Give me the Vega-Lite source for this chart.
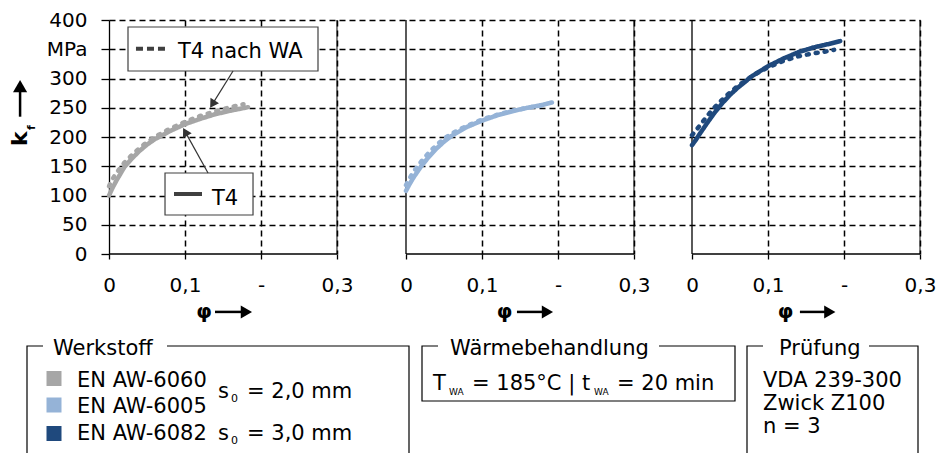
{
"$schema": "https://vega.github.io/schema/vega-lite/v6.json",
"width": 811, "height": 234,
"autosize": {"type": "none"},
"padding": {"left": 109, "top": 20, "right": 22, "bottom": 199},
"config": {"view": {"stroke": null}, "font": "DejaVu Sans", "axis": {"labelFont": "DejaVu Sans", "labelFontSize": 20, "labelColor": "black"}},
"datasets": {"curves": [
{"Werkstoff":"EN AW-6060","Zustand":"T4","phi":0,"kf":100},{"Werkstoff":"EN AW-6060","Zustand":"T4","phi":0.005,"kf":114},{"Werkstoff":"EN AW-6060","Zustand":"T4","phi":0.01,"kf":126},{"Werkstoff":"EN AW-6060","Zustand":"T4","phi":0.02,"kf":148},{"Werkstoff":"EN AW-6060","Zustand":"T4","phi":0.03,"kf":163},{"Werkstoff":"EN AW-6060","Zustand":"T4","phi":0.04,"kf":176},{"Werkstoff":"EN AW-6060","Zustand":"T4","phi":0.05,"kf":187},{"Werkstoff":"EN AW-6060","Zustand":"T4","phi":0.06,"kf":196},{"Werkstoff":"EN AW-6060","Zustand":"T4","phi":0.08,"kf":210},{"Werkstoff":"EN AW-6060","Zustand":"T4","phi":0.1,"kf":222},{"Werkstoff":"EN AW-6060","Zustand":"T4","phi":0.12,"kf":231},{"Werkstoff":"EN AW-6060","Zustand":"T4","phi":0.14,"kf":239},{"Werkstoff":"EN AW-6060","Zustand":"T4","phi":0.16,"kf":245},{"Werkstoff":"EN AW-6060","Zustand":"T4","phi":0.183,"kf":251},
{"Werkstoff":"EN AW-6005","Zustand":"T4","phi":0,"kf":108},{"Werkstoff":"EN AW-6005","Zustand":"T4","phi":0.005,"kf":120},{"Werkstoff":"EN AW-6005","Zustand":"T4","phi":0.01,"kf":131},{"Werkstoff":"EN AW-6005","Zustand":"T4","phi":0.02,"kf":150},{"Werkstoff":"EN AW-6005","Zustand":"T4","phi":0.03,"kf":166},{"Werkstoff":"EN AW-6005","Zustand":"T4","phi":0.04,"kf":180},{"Werkstoff":"EN AW-6005","Zustand":"T4","phi":0.05,"kf":192},{"Werkstoff":"EN AW-6005","Zustand":"T4","phi":0.06,"kf":202},{"Werkstoff":"EN AW-6005","Zustand":"T4","phi":0.08,"kf":217},{"Werkstoff":"EN AW-6005","Zustand":"T4","phi":0.1,"kf":228},{"Werkstoff":"EN AW-6005","Zustand":"T4","phi":0.12,"kf":237},{"Werkstoff":"EN AW-6005","Zustand":"T4","phi":0.14,"kf":244},{"Werkstoff":"EN AW-6005","Zustand":"T4","phi":0.16,"kf":250},{"Werkstoff":"EN AW-6005","Zustand":"T4","phi":0.18,"kf":255},{"Werkstoff":"EN AW-6005","Zustand":"T4","phi":0.192,"kf":259},
{"Werkstoff":"EN AW-6082","Zustand":"T4","phi":0,"kf":186},{"Werkstoff":"EN AW-6082","Zustand":"T4","phi":0.005,"kf":195},{"Werkstoff":"EN AW-6082","Zustand":"T4","phi":0.01,"kf":205},{"Werkstoff":"EN AW-6082","Zustand":"T4","phi":0.02,"kf":224},{"Werkstoff":"EN AW-6082","Zustand":"T4","phi":0.03,"kf":242},{"Werkstoff":"EN AW-6082","Zustand":"T4","phi":0.04,"kf":258},{"Werkstoff":"EN AW-6082","Zustand":"T4","phi":0.05,"kf":272},{"Werkstoff":"EN AW-6082","Zustand":"T4","phi":0.06,"kf":284},{"Werkstoff":"EN AW-6082","Zustand":"T4","phi":0.08,"kf":305},{"Werkstoff":"EN AW-6082","Zustand":"T4","phi":0.1,"kf":321},{"Werkstoff":"EN AW-6082","Zustand":"T4","phi":0.12,"kf":334},{"Werkstoff":"EN AW-6082","Zustand":"T4","phi":0.14,"kf":345},{"Werkstoff":"EN AW-6082","Zustand":"T4","phi":0.16,"kf":353},{"Werkstoff":"EN AW-6082","Zustand":"T4","phi":0.18,"kf":359},{"Werkstoff":"EN AW-6082","Zustand":"T4","phi":0.195,"kf":364},
{"Werkstoff":"EN AW-6060","Zustand":"T4 nach WA","phi":0,"kf":116},{"Werkstoff":"EN AW-6060","Zustand":"T4 nach WA","phi":0.005,"kf":129},{"Werkstoff":"EN AW-6060","Zustand":"T4 nach WA","phi":0.01,"kf":139},{"Werkstoff":"EN AW-6060","Zustand":"T4 nach WA","phi":0.02,"kf":156},{"Werkstoff":"EN AW-6060","Zustand":"T4 nach WA","phi":0.03,"kf":169},{"Werkstoff":"EN AW-6060","Zustand":"T4 nach WA","phi":0.04,"kf":181},{"Werkstoff":"EN AW-6060","Zustand":"T4 nach WA","phi":0.05,"kf":191},{"Werkstoff":"EN AW-6060","Zustand":"T4 nach WA","phi":0.06,"kf":200},{"Werkstoff":"EN AW-6060","Zustand":"T4 nach WA","phi":0.08,"kf":214},{"Werkstoff":"EN AW-6060","Zustand":"T4 nach WA","phi":0.1,"kf":226},{"Werkstoff":"EN AW-6060","Zustand":"T4 nach WA","phi":0.12,"kf":236},{"Werkstoff":"EN AW-6060","Zustand":"T4 nach WA","phi":0.14,"kf":244},{"Werkstoff":"EN AW-6060","Zustand":"T4 nach WA","phi":0.16,"kf":251},{"Werkstoff":"EN AW-6060","Zustand":"T4 nach WA","phi":0.177,"kf":256},
{"Werkstoff":"EN AW-6005","Zustand":"T4 nach WA","phi":0,"kf":118},{"Werkstoff":"EN AW-6005","Zustand":"T4 nach WA","phi":0.005,"kf":130},{"Werkstoff":"EN AW-6005","Zustand":"T4 nach WA","phi":0.01,"kf":141},{"Werkstoff":"EN AW-6005","Zustand":"T4 nach WA","phi":0.02,"kf":158},{"Werkstoff":"EN AW-6005","Zustand":"T4 nach WA","phi":0.03,"kf":173},{"Werkstoff":"EN AW-6005","Zustand":"T4 nach WA","phi":0.04,"kf":186},{"Werkstoff":"EN AW-6005","Zustand":"T4 nach WA","phi":0.05,"kf":197},{"Werkstoff":"EN AW-6005","Zustand":"T4 nach WA","phi":0.06,"kf":206},{"Werkstoff":"EN AW-6005","Zustand":"T4 nach WA","phi":0.08,"kf":219},{"Werkstoff":"EN AW-6005","Zustand":"T4 nach WA","phi":0.1,"kf":230},{"Werkstoff":"EN AW-6005","Zustand":"T4 nach WA","phi":0.12,"kf":238},{"Werkstoff":"EN AW-6005","Zustand":"T4 nach WA","phi":0.14,"kf":245},{"Werkstoff":"EN AW-6005","Zustand":"T4 nach WA","phi":0.16,"kf":250},{"Werkstoff":"EN AW-6005","Zustand":"T4 nach WA","phi":0.18,"kf":254},{"Werkstoff":"EN AW-6005","Zustand":"T4 nach WA","phi":0.187,"kf":256},
{"Werkstoff":"EN AW-6082","Zustand":"T4 nach WA","phi":0,"kf":203},{"Werkstoff":"EN AW-6082","Zustand":"T4 nach WA","phi":0.005,"kf":211},{"Werkstoff":"EN AW-6082","Zustand":"T4 nach WA","phi":0.01,"kf":219},{"Werkstoff":"EN AW-6082","Zustand":"T4 nach WA","phi":0.02,"kf":236},{"Werkstoff":"EN AW-6082","Zustand":"T4 nach WA","phi":0.03,"kf":251},{"Werkstoff":"EN AW-6082","Zustand":"T4 nach WA","phi":0.04,"kf":264},{"Werkstoff":"EN AW-6082","Zustand":"T4 nach WA","phi":0.05,"kf":276},{"Werkstoff":"EN AW-6082","Zustand":"T4 nach WA","phi":0.06,"kf":287},{"Werkstoff":"EN AW-6082","Zustand":"T4 nach WA","phi":0.08,"kf":305},{"Werkstoff":"EN AW-6082","Zustand":"T4 nach WA","phi":0.1,"kf":319},{"Werkstoff":"EN AW-6082","Zustand":"T4 nach WA","phi":0.12,"kf":330},{"Werkstoff":"EN AW-6082","Zustand":"T4 nach WA","phi":0.14,"kf":338},{"Werkstoff":"EN AW-6082","Zustand":"T4 nach WA","phi":0.16,"kf":343},{"Werkstoff":"EN AW-6082","Zustand":"T4 nach WA","phi":0.18,"kf":347},{"Werkstoff":"EN AW-6082","Zustand":"T4 nach WA","phi":0.187,"kf":349}
]},
"resolve": {"scale": {"x": "independent", "y": "independent"}},
"layer": [
{"layer": [
 {"data":{"name":"curves"},"transform":[{"filter":{"field":"Werkstoff","equal":"EN AW-6060"}}],"mark":{"type":"line","strokeWidth":4.5,"strokeCap":"round","strokeJoin":"round"},
  "encoding":{
   "x":{"field":"phi","type":"quantitative","scale":{"domain":[0,1.06711],"nice":false,"zero":false},"axis":{"orient":"bottom","values":[0,0.1,0.2,0.3],"domain":false,"tickSize":5,"tickColor":"black","tickWidth":1.3,"labelExpr":"datum.value < 0.05 ? '0' : datum.value < 0.15 ? '0,1' : datum.value < 0.25 ? '-' : '0,3'","labelPadding":16,"labelFlush":false,"labelOverlap":false,"grid":true,"gridColor":"black","gridWidth":1.5,"gridDash":[6,4],"gridOpacity":{"condition":{"test":"datum.value < 0.05","value":0},"value":1},"title":null}},
   "y":{"field":"kf","type":"quantitative","scale":{"domain":[0,400],"nice":false,"zero":false},"axis":{"orient":"left","values":[0,50,100,150,200,250,300,350,400],"tickCount":9,"domain":true,"domainColor":"black","domainWidth":1.3,"tickSize":8,"tickColor":"black","tickWidth":1.3,"labelPadding":14,"labelExpr":"datum.value == 350 ? 'MPa' : datum.label","grid":true,"gridColor":"black","gridWidth":1.5,"gridDash":[6,4],"gridOpacity":{"condition":{"test":"datum.value == 0","value":0},"value":1},"title":null}},
   "color":{"field":"Werkstoff","type":"nominal","scale":{"domain":["EN AW-6060","EN AW-6005","EN AW-6082"],"range":["#a6a6a6","#95b3d7","#1f497d"]},"legend":null},
   "strokeDash":{"field":"Zustand","type":"nominal","scale":{"domain":["T4","T4 nach WA"],"range":[[1,0],[2,7]]},"legend":null}}},
 {"data":{"values":[{}]},"mark":{"type":"rule","color":"black","strokeWidth":1},"encoding":{"x":{"datum":0.3,"type":"quantitative"},"y":{"datum":0,"type":"quantitative"},"y2":{"datum":400}}},
 {"data":{"values":[{}]},"mark":{"type":"rule","color":"black","strokeWidth":1.3},"encoding":{"x":{"datum":0,"type":"quantitative"},"x2":{"datum":0.3},"y":{"datum":0,"type":"quantitative"}}},
 {"data":{"values":[{}]},"mark":{"type":"rect","fill":"white","stroke":"#404040","strokeWidth":1.2},"encoding":{"x":{"datum":0.025,"type":"quantitative"},"x2":{"datum":0.275},"y":{"datum":388,"type":"quantitative"},"y2":{"datum":312.8}}},
 {"data":{"values":[{}]},"mark":{"type":"rule","color":"#404040","strokeWidth":4,"strokeDash":[7,4]},"encoding":{"x":{"datum":0.0355,"type":"quantitative"},"x2":{"datum":0.0763},"y":{"datum":351,"type":"quantitative"}}},
 {"data":{"values":[{}]},"mark":{"type":"text","text":"T4 nach WA","align":"left","baseline":"alphabetic","fontSize":21,"color":"black"},"encoding":{"x":{"datum":0.0908,"type":"quantitative"},"y":{"datum":334.5,"type":"quantitative"}}},
 {"data":{"values":[{}]},"mark":{"type":"rule","color":"#333333","strokeWidth":1.2},"encoding":{"x":{"datum":0.1632,"type":"quantitative"},"x2":{"datum":0.1361},"y":{"datum":312.8,"type":"quantitative"},"y2":{"datum":256.1}}},
 {"data":{"values":[{}]},"mark":{"type":"point","shape":"triangle-up","filled":true,"color":"#333333","opacity":1,"size":100,"angle":212},"encoding":{"x":{"datum":0.1361,"type":"quantitative"},"y":{"datum":256.1,"type":"quantitative"}}},
 {"data":{"values":[{}]},"mark":{"type":"rect","fill":"white","stroke":"#404040","strokeWidth":1.2},"encoding":{"x":{"datum":0.0737,"type":"quantitative"},"x2":{"datum":0.1895},"y":{"datum":138.5,"type":"quantitative"},"y2":{"datum":66.7}}},
 {"data":{"values":[{}]},"mark":{"type":"rule","color":"#404040","strokeWidth":4},"encoding":{"x":{"datum":0.0855,"type":"quantitative"},"x2":{"datum":0.1224},"y":{"datum":102.6,"type":"quantitative"}}},
 {"data":{"values":[{}]},"mark":{"type":"text","text":"T4","align":"left","baseline":"alphabetic","fontSize":21,"color":"black"},"encoding":{"x":{"datum":0.1355,"type":"quantitative"},"y":{"datum":83.8,"type":"quantitative"}}},
 {"data":{"values":[{}]},"mark":{"type":"rule","color":"#333333","strokeWidth":1.2},"encoding":{"x":{"datum":0.1303,"type":"quantitative"},"x2":{"datum":0.1003},"y":{"datum":138.5,"type":"quantitative"},"y2":{"datum":208.7}}},
 {"data":{"values":[{}]},"mark":{"type":"point","shape":"triangle-up","filled":true,"color":"#333333","opacity":1,"size":100,"angle":331},"encoding":{"x":{"datum":0.1003,"type":"quantitative"},"y":{"datum":208.7,"type":"quantitative"}}},
 {"data":{"values":[{}]},"mark":{"type":"text","text":"k","angle":270,"align":"center","baseline":"middle","fontSize":22,"fontWeight":"bold","color":"black"},"encoding":{"x":{"datum":-0.117,"type":"quantitative"},"y":{"datum":197,"type":"quantitative"}}},
 {"data":{"values":[{}]},"mark":{"type":"text","text":"f","angle":270,"align":"center","baseline":"middle","fontSize":11,"fontWeight":"bold","color":"black"},"encoding":{"x":{"datum":-0.101,"type":"quantitative"},"y":{"datum":216,"type":"quantitative"}}},
 {"data":{"values":[{}]},"mark":{"type":"rule","color":"black","strokeWidth":2.5},"encoding":{"x":{"datum":-0.117,"type":"quantitative"},"y":{"datum":234.7,"type":"quantitative"},"y2":{"datum":283}}},
 {"data":{"values":[{}]},"mark":{"type":"point","shape":"triangle-up","filled":true,"color":"black","opacity":1,"size":200},"encoding":{"x":{"datum":-0.117,"type":"quantitative"},"y":{"datum":287,"type":"quantitative"}}},
 {"data":{"values":[{}]},"mark":{"type":"text","text":"φ","align":"center","baseline":"middle","fontSize":20,"fontWeight":"bold","color":"black"},"encoding":{"x":{"datum":0.125,"type":"quantitative"},"y":{"datum":-99,"type":"quantitative"}}},
 {"data":{"values":[{}]},"mark":{"type":"rule","color":"black","strokeWidth":2.5},"encoding":{"x":{"datum":0.1395,"type":"quantitative"},"x2":{"datum":0.178},"y":{"datum":-99,"type":"quantitative"}}},
 {"data":{"values":[{}]},"mark":{"type":"point","shape":"triangle-right","filled":true,"color":"black","opacity":1,"size":169},"encoding":{"x":{"datum":0.1808,"type":"quantitative"},"y":{"datum":-99,"type":"quantitative"}}}
]},
{"layer": [
 {"data":{"values":[{}]},"mark":{"type":"rule","color":"black","strokeWidth":1.3},"encoding":{"x":{"datum":0,"type":"quantitative"},"y":{"datum":0,"type":"quantitative","axis":null},"y2":{"datum":400}}},
 {"data":{"values":[{}]},"mark":{"type":"rule","color":"black","strokeWidth":1},"encoding":{"x":{"datum":0.3,"type":"quantitative"},"y":{"datum":0,"type":"quantitative","axis":null},"y2":{"datum":400}}},
 {"data":{"values":[{}]},"mark":{"type":"rule","color":"black","strokeWidth":1.3},"encoding":{"x":{"datum":0,"type":"quantitative"},"x2":{"datum":0.3},"y":{"datum":0,"type":"quantitative","axis":null}}},
 {"data":{"name":"curves"},"transform":[{"filter":{"field":"Werkstoff","equal":"EN AW-6005"}}],"mark":{"type":"line","strokeWidth":4.5,"strokeCap":"round","strokeJoin":"round"},
  "encoding":{
   "x":{"field":"phi","type":"quantitative","scale":{"domain":[-0.39079,0.67632],"nice":false,"zero":false},"axis":{"orient":"bottom","values":[0,0.1,0.2,0.3],"domain":false,"tickSize":5,"tickColor":"black","tickWidth":1.3,"labelExpr":"datum.value < 0.05 ? '0' : datum.value < 0.15 ? '0,1' : datum.value < 0.25 ? '-' : '0,3'","labelPadding":16,"labelFlush":false,"labelOverlap":false,"grid":true,"gridColor":"black","gridWidth":1.5,"gridDash":[6,4],"gridOpacity":{"condition":{"test":"datum.value < 0.05","value":0},"value":1},"title":null}},
   "y":{"field":"kf","type":"quantitative","scale":{"domain":[0,400],"nice":false,"zero":false},"axis":null},
   "color":{"field":"Werkstoff","type":"nominal","legend":null},
   "strokeDash":{"field":"Zustand","type":"nominal","legend":null}}},
 {"data":{"values":[{}]},"mark":{"type":"text","text":"φ","align":"center","baseline":"middle","fontSize":20,"fontWeight":"bold","color":"black"},"encoding":{"x":{"datum":0.1296,"type":"quantitative"},"y":{"datum":-99,"type":"quantitative","axis":null}}},
 {"data":{"values":[{}]},"mark":{"type":"rule","color":"black","strokeWidth":2.5},"encoding":{"x":{"datum":0.146,"type":"quantitative"},"x2":{"datum":0.183},"y":{"datum":-99,"type":"quantitative","axis":null}}},
 {"data":{"values":[{}]},"mark":{"type":"point","shape":"triangle-right","filled":true,"color":"black","opacity":1,"size":169},"encoding":{"x":{"datum":0.1861,"type":"quantitative"},"y":{"datum":-99,"type":"quantitative","axis":null}}}
]},
{"layer": [
 {"data":{"values":[{}]},"mark":{"type":"rule","color":"black","strokeWidth":1.3},"encoding":{"x":{"datum":0,"type":"quantitative"},"y":{"datum":0,"type":"quantitative","axis":null},"y2":{"datum":400}}},
 {"data":{"values":[{}]},"mark":{"type":"rule","color":"black","strokeWidth":1},"encoding":{"x":{"datum":0.3,"type":"quantitative"},"y":{"datum":0,"type":"quantitative","axis":null},"y2":{"datum":400}}},
 {"data":{"values":[{}]},"mark":{"type":"rule","color":"black","strokeWidth":1.3},"encoding":{"x":{"datum":0,"type":"quantitative"},"x2":{"datum":0.3},"y":{"datum":0,"type":"quantitative","axis":null}}},
 {"data":{"name":"curves"},"transform":[{"filter":{"field":"Werkstoff","equal":"EN AW-6082"}}],"mark":{"type":"line","strokeWidth":4.5,"strokeCap":"round","strokeJoin":"round"},
  "encoding":{
   "x":{"field":"phi","type":"quantitative","scale":{"domain":[-0.76711,0.3],"nice":false,"zero":false},"axis":{"orient":"bottom","values":[0,0.1,0.2,0.3],"domain":false,"tickSize":5,"tickColor":"black","tickWidth":1.3,"labelExpr":"datum.value < 0.05 ? '0' : datum.value < 0.15 ? '0,1' : datum.value < 0.25 ? '-' : '0,3'","labelPadding":16,"labelFlush":false,"labelOverlap":false,"grid":true,"gridColor":"black","gridWidth":1.5,"gridDash":[6,4],"gridOpacity":{"condition":{"test":"datum.value < 0.05","value":0},"value":1},"title":null}},
   "y":{"field":"kf","type":"quantitative","scale":{"domain":[0,400],"nice":false,"zero":false},"axis":null},
   "color":{"field":"Werkstoff","type":"nominal","legend":null},
   "strokeDash":{"field":"Zustand","type":"nominal","legend":null}}},
 {"data":{"values":[{}]},"mark":{"type":"text","text":"φ","align":"center","baseline":"middle","fontSize":20,"fontWeight":"bold","color":"black"},"encoding":{"x":{"datum":0.123,"type":"quantitative"},"y":{"datum":-99,"type":"quantitative","axis":null}}},
 {"data":{"values":[{}]},"mark":{"type":"rule","color":"black","strokeWidth":2.5},"encoding":{"x":{"datum":0.142,"type":"quantitative"},"x2":{"datum":0.178},"y":{"datum":-99,"type":"quantitative","axis":null}}},
 {"data":{"values":[{}]},"mark":{"type":"point","shape":"triangle-right","filled":true,"color":"black","opacity":1,"size":169},"encoding":{"x":{"datum":0.1813,"type":"quantitative"},"y":{"datum":-99,"type":"quantitative","axis":null}}}
]},
{"layer": [
 {"data":{"values":[{}]},"mark":{"type":"rect","filled":false,"stroke":"black","strokeWidth":1.2},"encoding":{"x":{"datum":27,"type":"quantitative","scale":{"domain":[109,920],"nice":false,"zero":false},"axis":null},"x2":{"datum":409},"y":{"datum":346,"type":"quantitative","scale":{"domain":[20,254],"reverse":true,"nice":false,"zero":false},"axis":null},"y2":{"datum":470}}},
 {"data":{"values":[{}]},"mark":{"type":"rect","filled":false,"stroke":"black","strokeWidth":1.2},"encoding":{"x":{"datum":422,"type":"quantitative","axis":null},"x2":{"datum":735},"y":{"datum":346,"type":"quantitative","axis":null},"y2":{"datum":401}}},
 {"data":{"values":[{}]},"mark":{"type":"rect","filled":false,"stroke":"black","strokeWidth":1.2},"encoding":{"x":{"datum":747,"type":"quantitative","axis":null},"x2":{"datum":918},"y":{"datum":346,"type":"quantitative","axis":null},"y2":{"datum":470}}},
 {"data":{"values":[{}]},"mark":{"type":"rect","fill":"white","strokeWidth":0},"encoding":{"x":{"datum":43,"type":"quantitative","axis":null},"x2":{"datum":167},"y":{"datum":343,"type":"quantitative","axis":null},"y2":{"datum":349}}},
 {"data":{"values":[{}]},"mark":{"type":"rect","fill":"white","strokeWidth":0},"encoding":{"x":{"datum":438,"type":"quantitative","axis":null},"x2":{"datum":659},"y":{"datum":343,"type":"quantitative","axis":null},"y2":{"datum":349}}},
 {"data":{"values":[{}]},"mark":{"type":"rect","fill":"white","strokeWidth":0},"encoding":{"x":{"datum":763,"type":"quantitative","axis":null},"x2":{"datum":869},"y":{"datum":343,"type":"quantitative","axis":null},"y2":{"datum":349}}},
 {"data":{"values":[{}]},"mark":{"type":"text","text":"Werkstoff","align":"left","baseline":"alphabetic","fontSize":21,"color":"black"},"encoding":{"x":{"datum":53,"type":"quantitative","axis":null},"y":{"datum":355,"type":"quantitative","axis":null}}},
 {"data":{"values":[{}]},"mark":{"type":"square","size":225,"filled":true,"opacity":1},"encoding":{"x":{"datum":54,"type":"quantitative","axis":null},"y":{"datum":378.5,"type":"quantitative","axis":null},"color":{"datum":"EN AW-6060","type":"nominal","legend":null}}},
 {"data":{"values":[{}]},"mark":{"type":"square","size":225,"filled":true,"opacity":1},"encoding":{"x":{"datum":54,"type":"quantitative","axis":null},"y":{"datum":405,"type":"quantitative","axis":null},"color":{"datum":"EN AW-6005","type":"nominal","legend":null}}},
 {"data":{"values":[{}]},"mark":{"type":"square","size":225,"filled":true,"opacity":1},"encoding":{"x":{"datum":54,"type":"quantitative","axis":null},"y":{"datum":433.5,"type":"quantitative","axis":null},"color":{"datum":"EN AW-6082","type":"nominal","legend":null}}},
 {"data":{"values":[{}]},"mark":{"type":"text","text":"EN AW-6060","align":"left","baseline":"alphabetic","fontSize":21,"color":"black"},"encoding":{"x":{"datum":77,"type":"quantitative","axis":null},"y":{"datum":386.5,"type":"quantitative","axis":null}}},
 {"data":{"values":[{}]},"mark":{"type":"text","text":"EN AW-6005","align":"left","baseline":"alphabetic","fontSize":21,"color":"black"},"encoding":{"x":{"datum":77,"type":"quantitative","axis":null},"y":{"datum":412.5,"type":"quantitative","axis":null}}},
 {"data":{"values":[{}]},"mark":{"type":"text","text":"EN AW-6082","align":"left","baseline":"alphabetic","fontSize":21,"color":"black"},"encoding":{"x":{"datum":77,"type":"quantitative","axis":null},"y":{"datum":440,"type":"quantitative","axis":null}}},
 {"data":{"values":[{}]},"mark":{"type":"text","text":"s","align":"left","baseline":"alphabetic","fontSize":21,"color":"black"},"encoding":{"x":{"datum":218,"type":"quantitative","axis":null},"y":{"datum":398,"type":"quantitative","axis":null}}},
 {"data":{"values":[{}]},"mark":{"type":"text","text":"0","align":"left","baseline":"alphabetic","fontSize":11,"color":"black"},"encoding":{"x":{"datum":231,"type":"quantitative","axis":null},"y":{"datum":402,"type":"quantitative","axis":null}}},
 {"data":{"values":[{}]},"mark":{"type":"text","text":"= 2,0 mm","align":"left","baseline":"alphabetic","fontSize":21,"color":"black"},"encoding":{"x":{"datum":247,"type":"quantitative","axis":null},"y":{"datum":398,"type":"quantitative","axis":null}}},
 {"data":{"values":[{}]},"mark":{"type":"text","text":"s","align":"left","baseline":"alphabetic","fontSize":21,"color":"black"},"encoding":{"x":{"datum":218,"type":"quantitative","axis":null},"y":{"datum":440,"type":"quantitative","axis":null}}},
 {"data":{"values":[{}]},"mark":{"type":"text","text":"0","align":"left","baseline":"alphabetic","fontSize":11,"color":"black"},"encoding":{"x":{"datum":231,"type":"quantitative","axis":null},"y":{"datum":444,"type":"quantitative","axis":null}}},
 {"data":{"values":[{}]},"mark":{"type":"text","text":"= 3,0 mm","align":"left","baseline":"alphabetic","fontSize":21,"color":"black"},"encoding":{"x":{"datum":247,"type":"quantitative","axis":null},"y":{"datum":440,"type":"quantitative","axis":null}}},
 {"data":{"values":[{}]},"mark":{"type":"text","text":"Wärmebehandlung","align":"left","baseline":"alphabetic","fontSize":21,"color":"black"},"encoding":{"x":{"datum":450,"type":"quantitative","axis":null},"y":{"datum":355,"type":"quantitative","axis":null}}},
 {"data":{"values":[{}]},"mark":{"type":"text","text":"T","align":"left","baseline":"alphabetic","fontSize":21,"color":"black"},"encoding":{"x":{"datum":433,"type":"quantitative","axis":null},"y":{"datum":390,"type":"quantitative","axis":null}}},
 {"data":{"values":[{}]},"mark":{"type":"text","text":"WA","align":"left","baseline":"alphabetic","fontSize":9,"color":"black"},"encoding":{"x":{"datum":449,"type":"quantitative","axis":null},"y":{"datum":395,"type":"quantitative","axis":null}}},
 {"data":{"values":[{}]},"mark":{"type":"text","text":"= 185°C | t","align":"left","baseline":"alphabetic","fontSize":21,"color":"black"},"encoding":{"x":{"datum":472,"type":"quantitative","axis":null},"y":{"datum":390,"type":"quantitative","axis":null}}},
 {"data":{"values":[{}]},"mark":{"type":"text","text":"WA","align":"left","baseline":"alphabetic","fontSize":9,"color":"black"},"encoding":{"x":{"datum":594,"type":"quantitative","axis":null},"y":{"datum":395,"type":"quantitative","axis":null}}},
 {"data":{"values":[{}]},"mark":{"type":"text","text":"= 20 min","align":"left","baseline":"alphabetic","fontSize":21,"color":"black"},"encoding":{"x":{"datum":617,"type":"quantitative","axis":null},"y":{"datum":390,"type":"quantitative","axis":null}}},
 {"data":{"values":[{}]},"mark":{"type":"text","text":"Prüfung","align":"left","baseline":"alphabetic","fontSize":21,"color":"black"},"encoding":{"x":{"datum":779,"type":"quantitative","axis":null},"y":{"datum":355,"type":"quantitative","axis":null}}},
 {"data":{"values":[{}]},"mark":{"type":"text","text":"VDA 239-300","align":"left","baseline":"alphabetic","fontSize":21,"color":"black"},"encoding":{"x":{"datum":763,"type":"quantitative","axis":null},"y":{"datum":387,"type":"quantitative","axis":null}}},
 {"data":{"values":[{}]},"mark":{"type":"text","text":"Zwick Z100","align":"left","baseline":"alphabetic","fontSize":21,"color":"black"},"encoding":{"x":{"datum":763,"type":"quantitative","axis":null},"y":{"datum":410,"type":"quantitative","axis":null}}},
 {"data":{"values":[{}]},"mark":{"type":"text","text":"n = 3","align":"left","baseline":"alphabetic","fontSize":21,"color":"black"},"encoding":{"x":{"datum":763,"type":"quantitative","axis":null},"y":{"datum":433,"type":"quantitative","axis":null}}}
]}
]
}
